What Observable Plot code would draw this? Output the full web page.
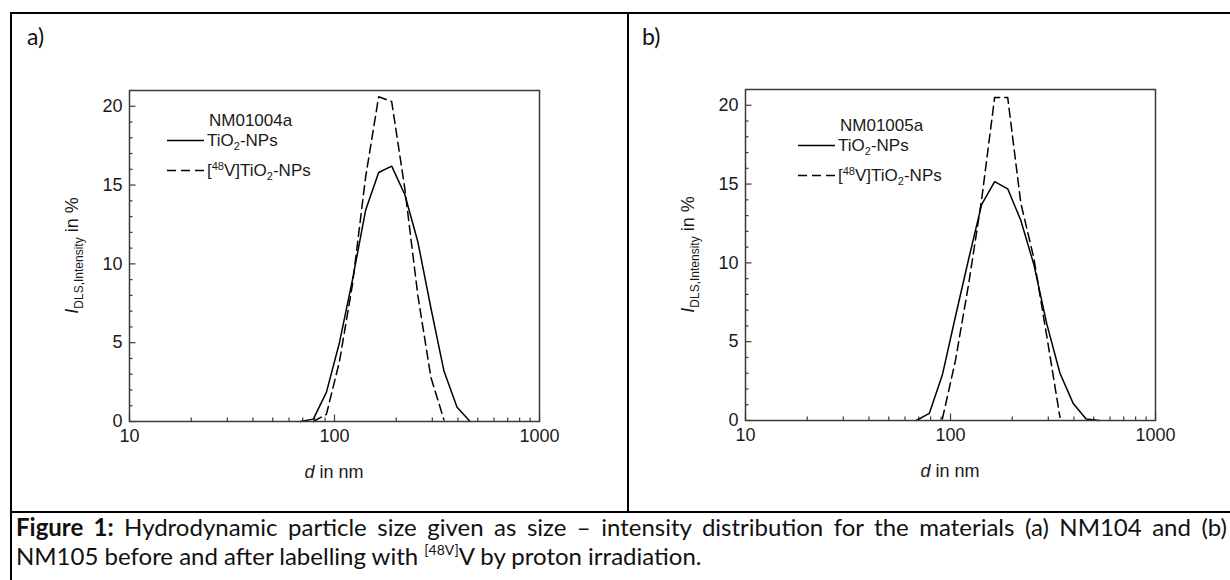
<!DOCTYPE html>
<html><head><meta charset="utf-8">
<script src="https://cdn.jsdelivr.net/npm/d3@7"></script>
<script src="https://cdn.jsdelivr.net/npm/@observablehq/plot@0.6"></script>
<style>
html,body{margin:0;padding:0;background:#fff;}
#page{position:relative;width:1230px;height:580px;overflow:hidden;background:#fff;font-family:Lato,"Noto Sans",sans-serif;color:#111;}
.hl{position:absolute;background:#000;}
.panel{position:absolute;}
.lab{position:absolute;font-size:23px;line-height:23px;}
.cap{position:absolute;left:16px;width:1211px;font-size:24px;line-height:27px;white-space:nowrap;}
.cap b{font-weight:700;}
.cap sup{font-size:14px;vertical-align:10px;line-height:0;}
</style></head><body>
<div id="page">
  <div class="hl" style="left:11px;top:12px;width:1219px;height:2px;"></div>
  <div class="hl" style="left:10px;top:12px;width:2px;height:568px;"></div>
  <div class="hl" style="left:627px;top:12px;width:2px;height:500px;"></div>
  <div class="hl" style="left:11px;top:511px;width:1219px;height:2px;"></div>
  <div class="lab" style="left:27px;top:25px;">a)</div>
  <div class="lab" style="left:642px;top:25px;">b)</div>
  <div id="pa" class="panel"></div>
  <div id="pb" class="panel"></div>
  <div class="cap" style="top:513px;text-align:justify;text-align-last:justify;"><b>Figure 1:</b> Hydrodynamic particle size given as size – intensity distribution for the materials (a) NM104 and (b)</div>
  <div class="cap" style="top:542px;">NM105 before and after labelling with <sup>[48V]</sup>V by proton irradiation.</div>
</div>
<script>
// DLS size bins (nm)
const bins = [68.06, 78.82, 91.28, 105.7, 122.4, 141.8, 164.2, 190.1, 220.2, 255.0, 295.3, 342.0, 396.1, 458.7, 531.2];
// intensity in % (null = not drawn)
const aSolid  = [0, 0.15, 1.85, 5.0, 9.0, 13.4, 15.8, 16.2, 14.4, 11.4, 7.2, 3.2, 0.9, 0, null];
const aDashed = [null, 0, 0.45, 3.8, 8.7, 15.5, 20.6, 20.3, 14.8, 8.0, 2.8, 0.1, null, null, null];
const bSolid  = [0, 0.45, 2.9, 6.6, 10.2, 13.7, 15.15, 14.7, 12.7, 9.9, 6.1, 3.0, 1.1, 0.1, 0];
const bDashed = [null, null, 0.1, 3.8, 8.6, 14.0, 20.5, 20.5, 13.8, 10.3, 5.3, 0.2, null, null, null];
const sampleNames = ["NM01004a", "NM01005a"];
const xMajor = [10, 100, 1000];
const xMinor = [20, 30, 40, 50, 60, 70, 80, 90, 200, 300, 400, 500, 600, 700, 800, 900];
const yMajor = [0, 5, 10, 15, 20];
const yMinor = [1, 2, 3, 4, 6, 7, 8, 9, 11, 12, 13, 14, 16, 17, 18, 19];

const FONT = '"Liberation Sans", Arial, sans-serif';
const FR = "#3a3a3a";

function series(vals) {
  return bins.map((d, i) => ({d, v: vals[i]})).filter(p => p.v != null);
}

function addText(g, x, y, parts, opts = {}) {
  const t = g.append("text").attr("x", x).attr("y", y)
    .attr("font-family", FONT).attr("font-size", opts.size || 17).attr("fill", "#1a1a1a")
    .attr("text-anchor", opts.anchor || "start");
  if (opts.transform) t.attr("transform", opts.transform);
  for (const p of parts) {
    const s = t.append("tspan").text(p.t);
    if (p.size) s.attr("font-size", p.size);
    if (p.dy) s.attr("dy", p.dy);
    if (p.it) s.attr("font-style", "italic");
  }
  return t;
}

function panel(id, left, top, mt, mb, solid, dashed, name, leg) {
  const W = 560, H = 430, ml = 109, mr = 41;
  const ih = H - mt - mb, iw = W - ml - mr;
  const plot = Plot.plot({
    width: W, height: H,
    marginLeft: ml, marginRight: mr, marginTop: mt, marginBottom: mb,
    x: {type: "log", domain: [10, 1000]},
    y: {domain: [0, 21]},
    style: {fontFamily: FONT, fontSize: "18px", background: "transparent", color: "#1a1a1a"},
    marks: [
      Plot.ruleX(xMinor, {insetTop: ih - 3.5, stroke: FR, strokeWidth: 1.2}),
      Plot.ruleX(xMajor, {insetTop: ih - 6.5, stroke: FR, strokeWidth: 1.2}),
      Plot.ruleY(yMinor, {insetRight: iw - 3.5, stroke: FR, strokeWidth: 1.2}),
      Plot.ruleY(yMajor, {insetRight: iw - 6.5, stroke: FR, strokeWidth: 1.2}),
      Plot.axisX({ticks: xMajor, tickSize: 0, tickPadding: 8, label: null, fontSize: 18, tickFormat: d => String(d)}),
      Plot.axisY({ticks: yMajor, tickSize: 0, tickPadding: 7, label: null, fontSize: 18}),
      Plot.line(series(solid), {x: "d", y: "v", stroke: "#000", strokeWidth: 1.5}),
      Plot.line(series(dashed), {x: "d", y: "v", stroke: "#000", strokeWidth: 1.5, strokeDasharray: "9,5"}),
      Plot.frame({stroke: FR, strokeWidth: 1.5})
    ]
  });
  const host = document.getElementById(id);
  host.style.left = left + "px";
  host.style.top = top + "px";
  host.appendChild(plot);
  const svg = d3.select(plot);
  const g = svg.append("g");
  const fyC = mt + ih / 2;
  // y axis title
  addText(g, 0, 0, [
    {t: "I", it: true},
    {t: "DLS,Intensity", size: 12, dy: 5},
    {t: " in %", dy: -5}
  ], {anchor: "middle", size: 18, transform: `translate(${ml - 51},${fyC}) rotate(-90)`});
  // x axis title
  addText(g, ml + iw / 2, mt + ih + 57, [
    {t: "d", it: true},
    {t: " in nm"}
  ], {anchor: "middle", size: 18});
  // legend
  const lx = leg.x - left, ly = leg.y - top;
  addText(g, lx + 42, ly, [{t: name}]);
  g.append("line").attr("x1", lx).attr("x2", lx + 37).attr("y1", ly + 14.5).attr("y2", ly + 14.5)
    .attr("stroke", "#000").attr("stroke-width", 1.5);
  addText(g, lx + 40, ly + 20, [
    {t: "TiO"}, {t: "2", size: 11, dy: 4}, {t: "-NPs", dy: -4}
  ]);
  g.append("line").attr("x1", lx).attr("x2", lx + 37).attr("y1", ly + 44.5).attr("y2", ly + 44.5)
    .attr("stroke", "#000").attr("stroke-width", 1.5).attr("stroke-dasharray", "9,5");
  addText(g, lx + 40, ly + 50, [
    {t: "["}, {t: "48", size: 11, dy: -6}, {t: "V]TiO", dy: 6},
    {t: "2", size: 11, dy: 4}, {t: "-NPs", dy: -4}
  ]);
}

panel("pa", 20, 70, 20, 79, aSolid, aDashed, sampleNames[0], {x: 167, y: 126});
panel("pb", 636, 70, 19, 80, bSolid, bDashed, sampleNames[1], {x: 798, y: 131});
</script>
</body></html>
